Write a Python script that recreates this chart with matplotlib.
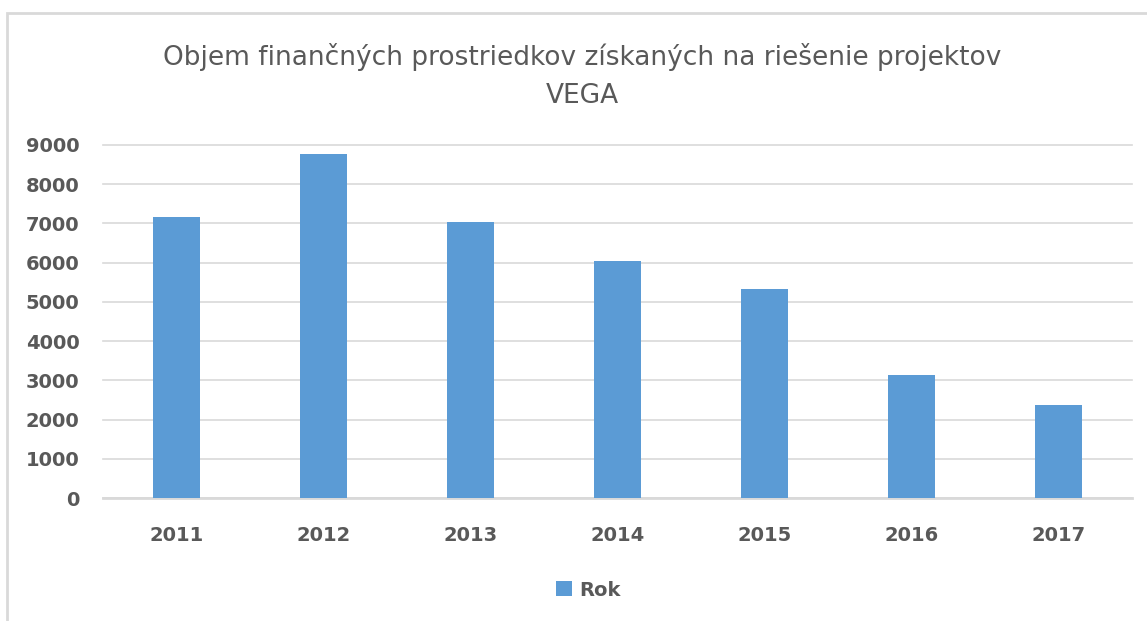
import matplotlib.pyplot as plt
from matplotlib.patches import Rectangle

years = ['2011', '2012', '2013', '2014', '2015', '2016', '2017']
values = [7170, 8770, 7040, 6030, 5340, 3130, 2360]
yticks = [0, 1000, 2000, 3000, 4000, 5000, 6000, 7000, 8000, 9000]

gray = '#595959'
blue = '#5b9bd5'

fig = plt.figure(figsize=(11.47, 6.21), dpi=100)
ax = fig.add_axes([103 / 1147, 1 - 498 / 621, 1029 / 1147, 353 / 621])

ax.bar(years, values, width=0.313, color=blue, label='Rok', zorder=3)
ax.set_xlim(-0.5, len(years) - 0.5)
ax.set_ylim(0, 9000)
ax.set_yticks(yticks)
ax.grid(axis='y', color='#d9d9d9', linewidth=1.2, zorder=0)
for gl in ax.get_ygridlines():
    gl.set_clip_on(False)
ax.axhline(0, color='#d9d9d9', linewidth=2, zorder=1, clip_on=False)
for s in ax.spines.values():
    s.set_visible(False)
ax.tick_params(length=0, labelcolor=gray, labelsize=14)
ax.tick_params(axis='y', pad=17)
ax.tick_params(axis='x', pad=20)
for lab in ax.get_xticklabels() + ax.get_yticklabels():
    lab.set_fontweight('bold')

fig.text(0.508, 1 - 57 / 621, 'Objem finančných prostriedkov získaných na riešenie projektov',
         ha='center', va='center', fontsize=19, color=gray)
fig.text(0.508, 1 - 96 / 621, 'VEGA', ha='center', va='center', fontsize=19, color=gray)

leg = fig.legend(loc='center', bbox_to_anchor=(0.513, 1 - 590 / 621), frameon=False,
                 handlelength=0.8, handleheight=0.8, handletextpad=0.4,
                 prop={'size': 14, 'weight': 'bold'})
for t in leg.get_texts():
    t.set_color(gray)

# chart area border (only left and top visible in the crop)
fig.add_artist(Rectangle((7 / 1147, -0.1), 1.2, 1 - 13 / 621 + 0.1, transform=fig.transFigure,
                         fill=False, edgecolor='#d9d9d9', linewidth=2))

fig.savefig('out.png', dpi=100)
